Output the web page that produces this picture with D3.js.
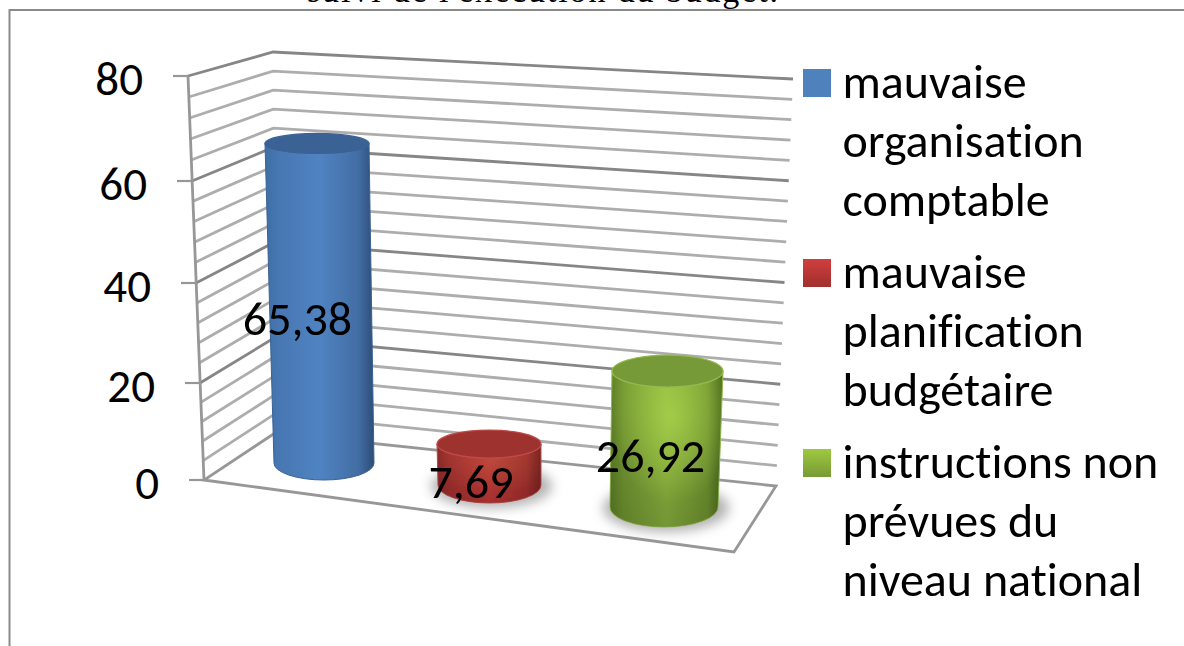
<!DOCTYPE html>
<html><head><meta charset="utf-8">
<script src="https://cdnjs.cloudflare.com/ajax/libs/d3/7.8.5/d3.min.js"></script>
<style>html,body{margin:0;padding:0;background:#fff;overflow:hidden}svg{display:block}
text{font-family:Carlito,Calibri,Lato,sans-serif;fill:#000;font-variant-ligatures:none}</style></head><body>
<svg id="c" width="1184" height="646"></svg>
<script>
const categories=["mauvaise organisation comptable","mauvaise planification budgétaire","instructions non prévues du niveau national"];
const values=[65.38,7.69,26.92];
const valueLabels=["65,38","7,69","26,92"];
const legendLines=[["mauvaise","organisation","comptable"],["mauvaise","planification","budgétaire"],["instructions non","prévues du","niveau national"]];
const axisTicks=[0,20,40,60,80];
const gridValues=d3.range(0,81,4);
const title="suivi de l'exécution  du budget.";

const svg=d3.select("#c");
const defs=svg.append("defs");
defs.append("filter").attr("id","soft").attr("x","-5%").attr("y","-5%").attr("width","110%").attr("height","110%")
  .append("feGaussianBlur").attr("stdDeviation",0.6);
defs.append("filter").attr("id","textsoft").append("feGaussianBlur").attr("stdDeviation",0.35);
const sf=defs.append("filter").attr("id","shadow").attr("x","-30%").attr("y","-60%").attr("width","160%").attr("height","220%");
sf.append("feGaussianBlur").attr("stdDeviation",6);

const palette=d3.scaleOrdinal(categories,[
 {edgeL:"#3f6ea5",mid:"#5083c2",edgeR:"#2c4d76",top:"#3b6294",rim:"#3b6294",sw0:"#4f81bd",sw1:"#4f81bd",glow:0},
 {edgeL:"#8f2c2a",mid:"#c93a3a",edgeR:"#7c2422",top:"#9d302e",rim:"#bd4a48",sw0:"#d03f3e",sw1:"#a02f2d",glow:.1},
 {edgeL:"#5f8128",mid:"#8fb840",edgeR:"#4c6a1c",top:"#779a39",rim:"#93b950",sw0:"#9fc940",sw1:"#779a35",glow:.6}]);

categories.forEach((c,i)=>{const p=palette(c);
  const g=defs.append("linearGradient").attr("id","body"+i);
  [[0,p.edgeL],[.12,d3.interpolateRgb(p.edgeL,p.mid)(.45)],[.5,p.mid],[.86,d3.interpolateRgb(p.edgeR,p.mid)(.6)],[1,p.edgeR]]
   .forEach(s=>g.append("stop").attr("offset",s[0]).attr("stop-color",s[1]));
  const s=defs.append("linearGradient").attr("id","sw"+i).attr("x2",0).attr("y2",1);
  s.append("stop").attr("offset",0).attr("stop-color",p.sw0);
  s.append("stop").attr("offset",1).attr("stop-color",p.sw1);
  const v=defs.append("linearGradient").attr("id","shade"+i).attr("x2",0).attr("y2",1);
  v.append("stop").attr("offset",0).attr("stop-color","#000").attr("stop-opacity",0);
  v.append("stop").attr("offset",1).attr("stop-color","#000").attr("stop-opacity",i==0?0:0.18);
  const r=defs.append("radialGradient").attr("id","glow"+i).attr("cx",.55).attr("cy",.3).attr("r",.55);
  r.append("stop").attr("offset",0).attr("stop-color","#b5e050").attr("stop-opacity",p.glow);
  r.append("stop").attr("offset",1).attr("stop-color","#b5e050").attr("stop-opacity",0);
});

// perspective scales: one per vertical edge of the walls
const yFront=d3.scaleLinear().domain(axisTicks).range([480,383,283,181,76]);
const xFront=d3.scaleLinear().domain([0,80]).range([204,188]);
const yBack=d3.scaleLinear().domain([0,80]).range([433,52]);
const xBack=d3.scaleLinear().domain([0,80]).range([275,273]);
const yRight=d3.scaleLinear().domain([0,80]).range([486,79]);
const xRight=d3.scaleLinear().domain([0,80]).range([776,793]);

const chart=svg.append("g").attr("filter","url(#soft)");
// frame
chart.append("path").attr("d","M9.5,646V10H1184").attr("fill","none").attr("stroke","#8a8a8a").attr("stroke-width",2);
// title
svg.append("text").attr("x",307).attr("y",2).style("font-family","'Liberation Serif',serif").style("font-size","34px")
  .attr("textLength",471).attr("lengthAdjust","spacing").text(title);

// gridlines
chart.append("g").selectAll("path").data(gridValues.slice(1)).join("path")
 .attr("d",v=>`M${xFront(v)},${yFront(v)}L${xBack(v)},${yBack(v)}L${xRight(v)},${yRight(v)}`)
 .attr("fill","none").attr("stroke",v=>v%20===0?"#868686":"#adadad").attr("stroke-width",2.8);
// value axis
chart.append("path").attr("d",`M${xFront(80)},${yFront(80)}L${xFront(0)},${yFront(0)}`).attr("stroke","#979797").attr("stroke-width",2.8).attr("fill","none");
chart.append("g").selectAll("line").data(axisTicks).join("line")
 .attr("x1",v=>xFront(v)-15).attr("x2",v=>xFront(v)).attr("y1",yFront).attr("y2",yFront)
 .attr("stroke","#979797").attr("stroke-width",2.2);
// floor
chart.append("path").attr("d",`M${xFront(0)},${yFront(0)}L734,552L${xRight(0)},${yRight(0)}L${xBack(0)},${yBack(0)}Z`)
 .attr("fill","#fff").attr("stroke","#979797").attr("stroke-width",2.8).attr("stroke-linejoin","miter");
// axis tick labels
svg.append("g").selectAll("text").data(axisTicks).join("text")
 .attr("x",v=>xFront(v)-45).attr("y",v=>yFront(v)+18.5).attr("text-anchor","end").style("font-size","47px").text(d3.format("d"));

// cylinders
const baseCx=d3.scaleOrdinal(categories,[324,489.5,664]);
const topCx=d3.scaleOrdinal(categories,[317,489,667.5]);
const baseRx=d3.scaleOrdinal(categories,[50,51.5,54]);
const topRx=d3.scaleOrdinal(categories,[52,52,55.5]);
const baseRy=d3.scaleOrdinal(categories,[17,18,20]);
const topRy=d3.scaleOrdinal(categories,[10,14,16]);
const baseY=d3.scaleOrdinal(categories,[463,485,507]);
const fullH=d3.scaleOrdinal(categories,[391,426,404]);
const h=c=>d3.scaleLinear().domain([0,80]).range([0,fullH(c)]);
const rows=categories.map((c,i)=>({c,i,v:values[i],topY:baseY(c)-h(c)(values[i])}));

const bars=chart.append("g").selectAll("g").data(rows).join("g");
bars.filter(d=>d.i>0).append("ellipse").attr("cx",d=>baseCx(d.c)+2).attr("cy",d=>baseY(d.c)+1)
 .attr("rx",d=>baseRx(d.c)+9).attr("ry",d=>baseRy(d.c)+4).attr("fill","#666").attr("opacity",.5).attr("filter","url(#shadow)");
const bodyD=d=>{const bx=baseCx(d.c),tx=topCx(d.c),br=baseRx(d.c),tr=topRx(d.c),bry=baseRy(d.c),try_=topRy(d.c),by=baseY(d.c);
 return `M${tx-tr},${d.topY}L${bx-br},${by}A${br},${bry} 0 0 0 ${bx+br},${by}L${tx+tr},${d.topY}A${tr},${try_} 0 0 1 ${tx-tr},${d.topY}Z`;};
bars.append("path").attr("d",bodyD).attr("fill",d=>`url(#body${d.i})`).attr("stroke",d=>palette(d.c).rim).attr("stroke-width",1);
bars.append("path").attr("d",bodyD).attr("fill",d=>`url(#shade${d.i})`);
bars.append("path").attr("d",bodyD).attr("fill",d=>`url(#glow${d.i})`);
bars.append("ellipse").attr("cx",d=>topCx(d.c)).attr("cy",d=>d.topY).attr("rx",d=>topRx(d.c)).attr("ry",d=>topRy(d.c))
 .attr("fill",d=>palette(d.c).top).attr("stroke",d=>palette(d.c).rim).attr("stroke-width",1.2);

const texts=svg.append("g").attr("filter","url(#textsoft)");
// value labels
const labelX=d3.scaleOrdinal(categories,[297.5,471,650.5]);
const labelY=d3.scaleOrdinal(categories,[335,498,472]);
texts.append("g").selectAll("text").data(rows).join("text")
 .attr("x",d=>labelX(d.c)).attr("y",d=>labelY(d.c)).attr("text-anchor","middle").style("font-size","48px")
 .text(d=>valueLabels[d.i]);

// legend
const legendY=d3.scaleOrdinal(categories,[98,288,478]);
const lg=svg.append("g").selectAll("g").data(rows).join("g");
lg.append("rect").attr("x",803).attr("y",d=>legendY(d.c)-29).attr("width",28).attr("height",28)
 .attr("fill",d=>`url(#sw${d.i})`).attr("filter","url(#soft)");
texts.append("g").selectAll("g").data(rows).join("g").selectAll("text").data(d=>legendLines[d.i].map((t,k)=>({t,k,y:legendY(d.c)+k*58.8}))).join("text")
 .attr("x",842.5).attr("y",d=>d.y).style("font-size","48px").text(d=>d.t);
</script></body></html>
